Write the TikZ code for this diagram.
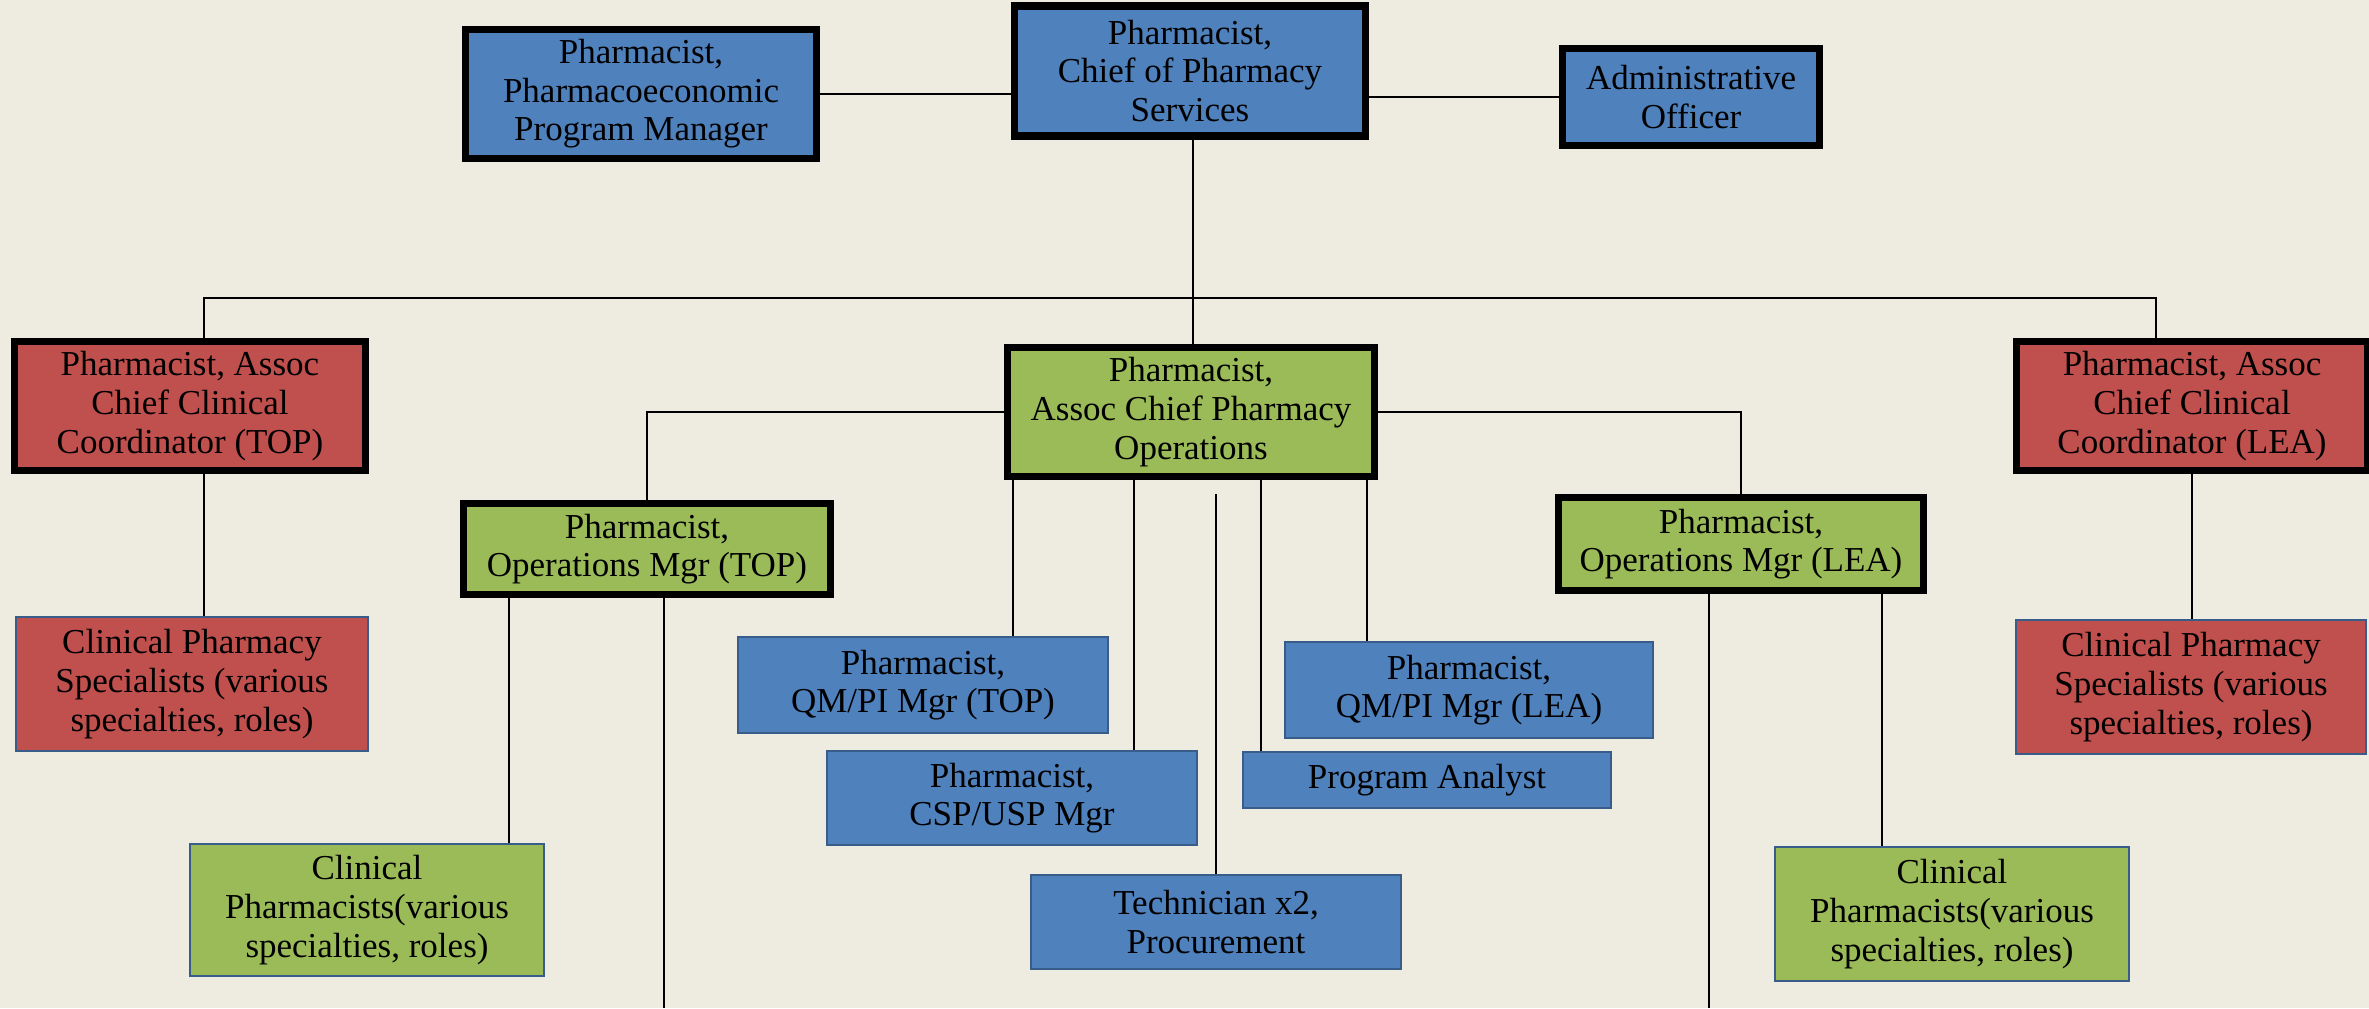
\documentclass[tikz,border=0pt]{standalone}
\usepackage{fontspec}
\setmainfont{Liberation Serif}
\definecolor{paper}{HTML}{EEECE1}
\definecolor{blueboss}{HTML}{4F81BD}
\definecolor{redclin}{HTML}{C0504D}
\definecolor{greenops}{HTML}{9BBB59}
\definecolor{outline}{HTML}{385D8A}

\tikzset{
    role/.style={rectangle, align=center, inner sep=0pt, font=\fontsize{17.5}{19.3}\selectfont},
    lead/.style={role, draw=black, line width=3.7pt},
    staff/.style={role, draw=outline, line width=1pt},
    link/.style={draw=black, line width=1pt}
}

\begin{document}
\begin{tikzpicture}[x=0.5pt, y=-0.5pt]
    \fill[paper] (0,0) rectangle (2369,1008);
    \useasboundingbox (0,0) rectangle (2369,1008);
    \coordinate (floor) at (0,1008);
    \coordinate (bar) at (1193,298);

    % top row
    \node[lead, fill=blueboss, minimum width=175.5pt, minimum height=64.5pt] (pe) at (641,94) {Pharmacist,\\Pharmacoeconomic\\Program Manager};
    \node[lead, fill=blueboss, minimum width=175.5pt, minimum height=65pt] (chief) at (1190,71) {Pharmacist,\\Chief of Pharmacy\\Services};
    \node[lead, fill=blueboss, minimum width=128.5pt, minimum height=48.5pt] (admin) at (1691,97) {Administrative\\Officer};

    % second row
    \node[lead, fill=redclin, minimum width=175.5pt, minimum height=64.5pt] (redtop) at (190,406) {Pharmacist, Assoc\\Chief Clinical\\Coordinator (TOP)};
    \node[lead, fill=redclin, minimum width=175.5pt, minimum height=64.5pt] (redlea) at (2192,406) {Pharmacist, Assoc\\Chief Clinical\\Coordinator (LEA)};
    \node[lead, fill=greenops, minimum width=183.5pt, minimum height=64.5pt] (ops) at (1191,412) {Pharmacist,\\Assoc Chief Pharmacy\\Operations};
    \node[lead, fill=greenops, minimum width=183.5pt, minimum height=45.5pt] (opstop) at (647,549) {Pharmacist,\\Operations Mgr (TOP)};
    \node[lead, fill=greenops, minimum width=182.5pt, minimum height=46.5pt] (opslea) at (1741,544) {Pharmacist,\\Operations Mgr (LEA)};

    % staff
    \node[staff, fill=redclin, minimum width=176pt, minimum height=67pt] (cpstop) at (192,684) {Clinical Pharmacy\\Specialists (various\\specialties, roles)};
    \node[staff, fill=redclin, minimum width=175pt, minimum height=67pt] (cpslea) at (2191,687) {Clinical Pharmacy\\Specialists (various\\specialties, roles)};
    \node[staff, fill=greenops, minimum width=177pt, minimum height=66pt] (clintop) at (367,910) {Clinical\\Pharmacists(various\\specialties, roles)};
    \node[staff, fill=greenops, minimum width=177pt, minimum height=67pt] (clinlea) at (1952,914) {Clinical\\Pharmacists(various\\specialties, roles)};
    \node[staff, fill=blueboss, minimum width=185pt, minimum height=48pt] (qmtop) at (923,685) {Pharmacist,\\QM/PI Mgr (TOP)};
    \node[staff, fill=blueboss, minimum width=185pt, minimum height=47pt] (csp) at (1012,798) {Pharmacist,\\CSP/USP Mgr};
    \node[staff, fill=blueboss, minimum width=185pt, minimum height=47pt] (tech) at (1216,922) {Technician x2,\\Procurement};
    \node[staff, fill=blueboss, minimum width=184pt, minimum height=48pt] (qmlea) at (1469,690) {Pharmacist,\\QM/PI Mgr (LEA)};
    \node[staff, fill=blueboss, minimum width=184pt, minimum height=28pt] (analyst) at (1427,780) {Program Analyst};

    % drop points
    \path (ops.south west) ++(9,0) coordinate (o1);
    \path (ops.south west) ++(130,0) coordinate (o2);
    \path (ops.south west) ++(257,0) coordinate (o3);
    \path (ops.south west) ++(363,0) coordinate (o4);
    \path (opstop.south west) ++(49,0) coordinate (t1);
    \path (opstop.south west) ++(204,0) coordinate (t2);
    \path (opslea.south west) ++(154,0) coordinate (l1);
    \path (opslea.south west) ++(327,0) coordinate (l2);

    \path[link]
        (pe.east) edge (pe.east -| chief.west)
        (admin.west) edge (admin.west -| chief.east)
        (bar |- chief.south) edge (bar |- ops.north)
        (o1) edge (o1 |- qmtop.north)
        (o2) edge (o2 |- csp.north)
        (o3) edge (o3 |- analyst.north)
        (o4) edge (o4 |- qmlea.north)
        (t1) edge (t1 |- clintop.north)
        (t2) edge (t2 |- floor)
        (l1) edge (l1 |- floor)
        (l2) edge (l2 |- clinlea.north)
        (redlea.south) edge (redlea.south |- cpslea.north)
        ([xshift=7pt]redtop.south) edge ([xshift=7pt]redtop.south |- cpstop.north);
    \draw[link] ([xshift=7pt]redtop.north) |- (bar) -| ([xshift=-18pt]redlea.north);
    \draw[link] (ops.west) -| (opstop.north);
    \draw[link] (ops.east) -| (opslea.north);
    \draw[link, shorten <=7pt] (ops.south -| tech.north) -- (tech.north);
\end{tikzpicture}
\end{document}
